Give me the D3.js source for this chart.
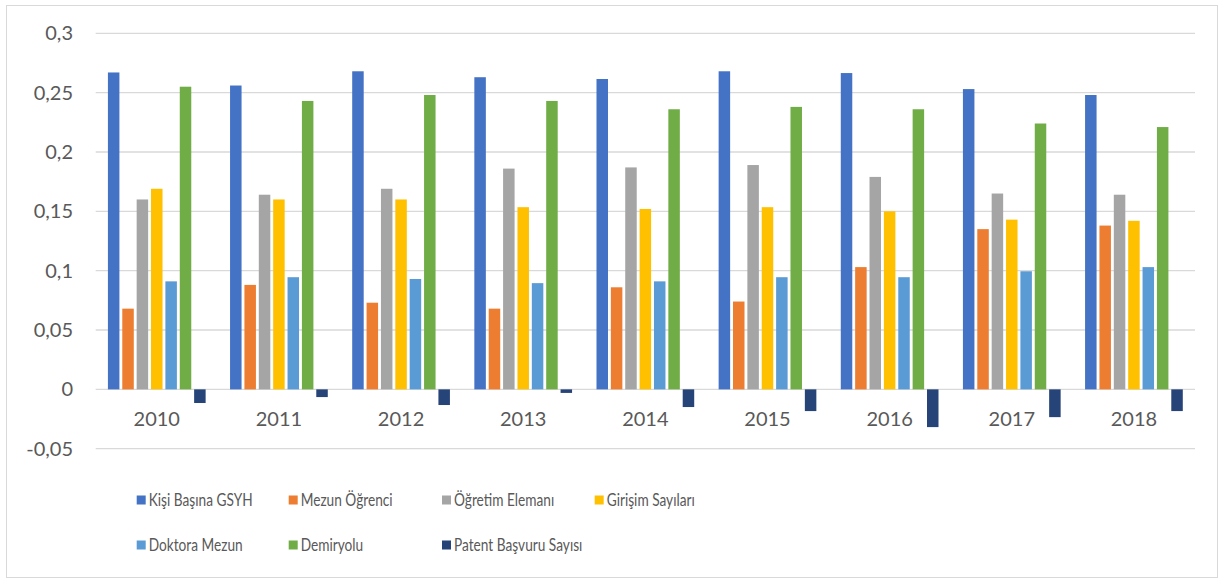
<!DOCTYPE html>
<html lang="tr">
  <head>
    <meta charset="UTF-8">
    <title>Bar Chart</title>
    <script src="https://d3js.org/d3.v7.min.js"></script>
    <style>
      * {
        margin: 0;
        padding: 0;
      }
      body {
        background: #fff;
      }
      body > svg {
        display: block;
      }
      text {
        font-family: Lato, "Open Sans", sans-serif;
        fill: #595959;
      }
    </style>
  </head>
  <body>
    <script>
      // data
      var years = ["2010", "2011", "2012", "2013", "2014", "2015", "2016", "2017", "2018"];
      var seriesNames = ["Kişi Başına GSYH", "Mezun Öğrenci", "Öğretim Elemanı", "Girişim Sayıları",
        "Doktora Mezun", "Demiryolu", "Patent Başvuru Sayısı"];
      var seriesColors = ["#4472C4", "#ED7D31", "#A5A5A5", "#FFC000", "#5B9BD5", "#70AD47", "#264478"];

      var kisiBasinaGsyh = [0.267, 0.256, 0.268, 0.263, 0.2615, 0.268, 0.2665, 0.253, 0.248];
      var mezunOgrenci = [0.068, 0.088, 0.073, 0.068, 0.086, 0.074, 0.103, 0.135, 0.138];
      var ogretimElemani = [0.160, 0.164, 0.169, 0.186, 0.187, 0.189, 0.179, 0.165, 0.164];
      var girisimSayilari = [0.169, 0.160, 0.160, 0.1535, 0.152, 0.1535, 0.150, 0.143, 0.142];
      var doktoraMezun = [0.091, 0.0945, 0.093, 0.0895, 0.091, 0.0945, 0.0945, 0.0995, 0.103];
      var demiryolu = [0.255, 0.243, 0.248, 0.243, 0.236, 0.238, 0.236, 0.224, 0.221];
      var patentBasvuru = [-0.0115, -0.0065, -0.0132, -0.003, -0.0149, -0.0183, -0.0318, -0.0234, -0.0183];

      var yTicks = [-0.05, 0, 0.05, 0.1, 0.15, 0.2, 0.25, 0.3];

      var seriesValues = [kisiBasinaGsyh, mezunOgrenci, ogretimElemani, girisimSayilari,
        doktoraMezun, demiryolu, patentBasvuru];

      var width = 1221;
      var height = 580;

      var svg = d3.select("body").append("svg")
        .attr("width", width)
        .attr("height", height);

      // chart border
      svg.append("rect")
        .attr("x", 6.5)
        .attr("y", 5.5)
        .attr("width", 1211)
        .attr("height", 572)
        .attr("fill", "#fff")
        .attr("stroke", "#d9d9d9")
        .attr("stroke-width", 1);

      var plotLeft = 95.7, plotRight = 1195;

      var y = d3.scaleLinear()
        .domain([-0.05, 0.3])
        .range([448.7, 33.3]);

      var x0 = d3.scaleBand()
        .domain(years)
        .range([plotLeft, plotRight])
        .paddingInner(0.2)
        .paddingOuter(0.1);

      var x1 = d3.scaleBand()
        .domain(d3.range(seriesNames.length))
        .range([0, x0.bandwidth()])
        .paddingInner(0.2);

      // gridlines
      svg.append("g")
        .selectAll("line")
        .data(yTicks)
        .enter().append("line")
        .attr("x1", plotLeft)
        .attr("x2", plotRight)
        .attr("y1", function (d) { return y(d); })
        .attr("y2", function (d) { return y(d); })
        .attr("stroke", "#d9d9d9")
        .attr("stroke-width", 1.3);

      // y axis labels (comma decimals, plain hyphen minus)
      var yAxis = d3.axisLeft(y)
        .tickValues(yTicks)
        .tickSize(0)
        .tickPadding(0)
        .tickFormat(function (d) { return String(+d.toFixed(2)).replace(".", ","); });

      var yg = svg.append("g")
        .attr("transform", "translate(73,0)")
        .call(yAxis);
      yg.select(".domain").remove();
      yg.selectAll("text")
        .attr("font-size", "20px")
        .attr("fill", "#595959")
        .style("font-family", "Lato, sans-serif");

      // bars
      var groups = svg.append("g")
        .selectAll("g")
        .data(years)
        .enter().append("g")
        .attr("transform", function (d) { return "translate(" + x0(d) + ",0)"; });

      groups.selectAll("rect")
        .data(function (d, i) {
          return seriesValues.map(function (vals, s) { return { s: s, v: vals[i] }; });
        })
        .enter().append("rect")
        .attr("x", function (d) { return x1(d.s); })
        .attr("width", x1.bandwidth())
        .attr("y", function (d) { return y(Math.max(0, d.v)); })
        .attr("height", function (d) { return Math.abs(y(d.v) - y(0)); })
        .attr("fill", function (d) { return seriesColors[d.s]; });

      // category labels
      var xAxis = d3.axisBottom(x0)
        .tickSize(0)
        .tickPadding(0);

      var xg = svg.append("g")
        .attr("transform", "translate(0,426)")
        .call(xAxis);
      xg.select(".domain").remove();
      xg.selectAll("text")
        .attr("dy", 0)
        .attr("font-size", "20px")
        .attr("fill", "#595959")
        .style("font-family", "Lato, sans-serif");

      // legend
      var legendCols = [136.7, 288.7, 442, 594.7];
      var legendRows = [500, 545];

      var legend = svg.append("g")
        .selectAll("g")
        .data(seriesNames)
        .enter().append("g")
        .attr("transform", function (d, i) {
          return "translate(" + legendCols[i % 4] + "," + legendRows[Math.floor(i / 4)] + ")";
        });

      legend.append("rect")
        .attr("x", 0)
        .attr("y", -4.5)
        .attr("width", 9)
        .attr("height", 9)
        .attr("fill", function (d, i) { return seriesColors[i]; });

      var legendText = legend.append("text")
        .attr("dy", "0.35em")
        .attr("font-size", "17px")
        .text(function (d) { return d; });

      // the original font is narrow: squeeze the labels so the first one is ~104px wide
      var firstWidth = legendText.node().getComputedTextLength();
      var squeeze = firstWidth > 0 ? 104 / firstWidth : 1;
      legendText.attr("transform", "translate(12,0) scale(" + squeeze + ",1)");
    </script>
  </body>
</html>
